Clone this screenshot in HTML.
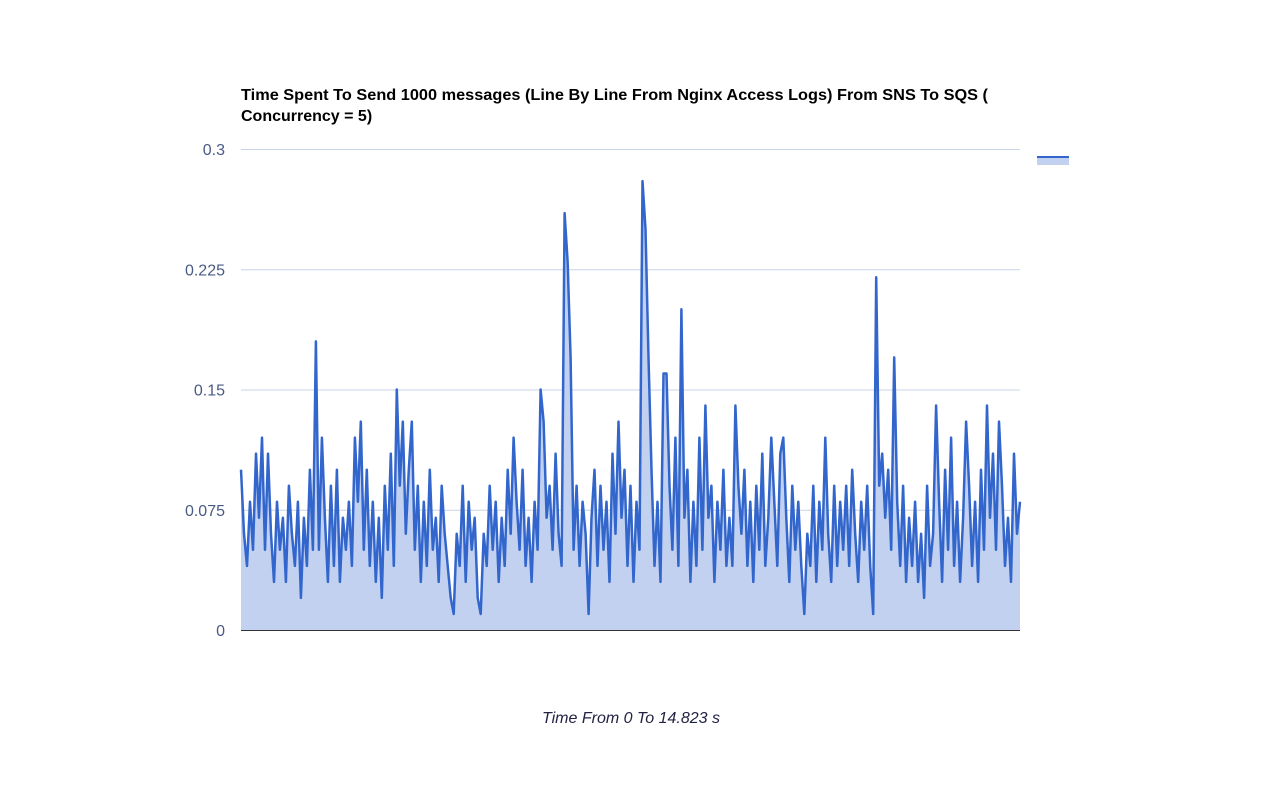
<!DOCTYPE html>
<html><head><meta charset="utf-8"><style>
body{margin:0;background:#fff;font-family:"Liberation Sans",Arial,sans-serif}
</style></head><body>
<svg width="1262" height="780" xmlns="http://www.w3.org/2000/svg">
<text x="241" y="100" font-size="16" font-weight="bold" fill="#000" textLength="747" lengthAdjust="spacingAndGlyphs">Time Spent To Send 1000 messages (Line By Line From Nginx Access Logs) From SNS To SQS (</text>
<text x="241" y="121" font-size="16" font-weight="bold" fill="#000">Concurrency = 5)</text>
<g id="grid"></g>
<g id="ylabels"></g>
<path id="area" fill="#c2d1f0"/>
<path id="line" fill="none" stroke="#3366cc" stroke-width="2.5" stroke-linejoin="round"/>
<line x1="241" y1="630.5" x2="1020" y2="630.5" stroke="#333" stroke-width="1"/>
<text x="631" y="723" font-size="16" font-style="italic" fill="#222244" text-anchor="middle">Time From 0 To 14.823 s</text>
<g>
<rect x="1037" y="157" width="32" height="8" fill="#c2d1f0"/>
<line x1="1037" y1="157" x2="1069" y2="157" stroke="#3366cc" stroke-width="2"/>
</g>
</svg>
<script>
const yTicks=[0,0.075,0.15,0.225,0.3];
const yTickLabels=["0","0.075","0.15","0.225","0.3"];
const values=[10,6,4,8,5,11,7,12,5,11,
6,3,8,5,7,3,9,6,4,8,
2,7,4,10,5,18,5,12,7,3,
9,4,10,3,7,5,8,4,12,8,13,5,
10,4,8,3,7,2,9,5,11,4,
15,9,13,6,10,
13,5,9,3,8,4,10,5,7,3,9,6,4,2,1,
6,4,9,3,8,5,7,2,1,
6,4,9,5,8,3,7,4,10,6,
12,8,5,10,4,7,3,8,5,
15,13,7,9,5,11,6,4,
26,23,17,5,9,4,8,6,1,
7,10,4,9,5,8,3,11,6,
13,7,10,4,9,3,8,5,
28,25,17,10,4,8,3,
16,16,9,5,12,4,
20,7,10,3,8,4,12,5,
14,7,9,3,8,5,10,4,7,4,
14,9,6,10,4,8,3,9,5,11,4,7,
12,8,4,11,
12,7,3,9,5,8,4,1,
6,4,9,3,8,5,
12,6,3,9,4,8,5,9,4,10,6,3,8,5,9,4,1,
22,9,11,7,10,5,17,8,
4,9,3,7,4,8,3,6,2,9,4,6,
14,8,3,10,5,12,4,8,3,7,
13,9,4,8,3,10,5,
14,7,11,5,
13,9,4,7,3,11,6,8];
const X0=241,X1=1020,Y0=630,Y1=149,YMAX=0.3;
const xs=i=>X0+(X1-X0)*i/(values.length-1);
const ys=v=>Y0-(Y0-Y1)*v/YMAX;
const NS="http://www.w3.org/2000/svg";
const grid=document.getElementById('grid'),yl=document.getElementById('ylabels');
yTicks.forEach((t,k)=>{
  if(t>0){const l=document.createElementNS(NS,'line');
  l.setAttribute('x1',X0);l.setAttribute('x2',X1);l.setAttribute('y1',ys(t)+0.5);l.setAttribute('y2',ys(t)+0.5);
  l.setAttribute('stroke','#c9d3e8');
  
  
  grid.appendChild(l);}
  const tx=document.createElementNS(NS,'text');
  tx.setAttribute('x',225);tx.setAttribute('y',ys(t)+6);tx.setAttribute('text-anchor','end');
  tx.setAttribute('font-size','16');tx.setAttribute('fill','#4a5a85');
  tx.textContent=yTickLabels[k];
  
  
  yl.appendChild(tx);
});
let d='';values.forEach((v,i)=>{d+=(i?'L':'M')+xs(i).toFixed(1)+','+ys(v/100).toFixed(1);});
document.getElementById('line').setAttribute('d',d);
document.getElementById('area').setAttribute('d',d+'L'+X1+','+Y0+'L'+X0+','+Y0+'Z');
</script>
</body></html>
